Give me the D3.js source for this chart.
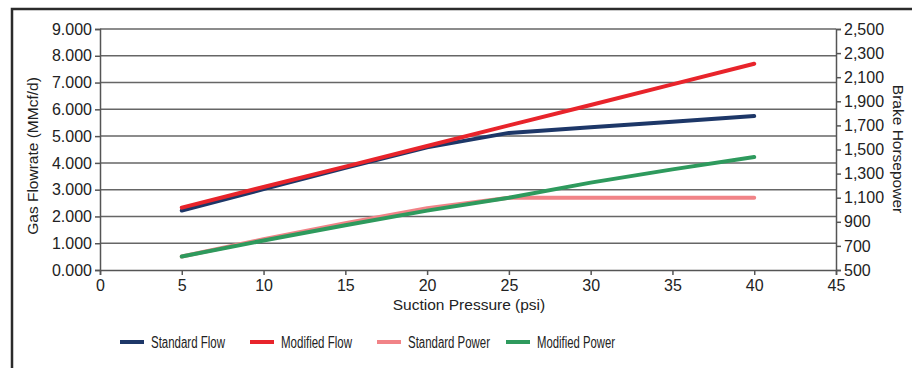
<!DOCTYPE html>
<html>
<head>
<meta charset="utf-8">
<script src="https://cdn.jsdelivr.net/npm/d3@7"></script>
<style>
  body { margin: 0; background: #fff; }
  svg { display: block; font-family: "Liberation Sans", Arial, sans-serif; }
</style>
</head>
<body>
<svg width="912" height="368"></svg>
<script>
// suction pressure (psi)
var pressure = [5, 10, 15, 20, 25, 30, 35, 40];
// gas flowrate, MMcf/d (left axis)
var standardFlow = [2.22, 3.02, 3.82, 4.58, 5.12, 5.33, 5.54, 5.75];
var modifiedFlow = [2.33, 3.1, 3.86, 4.63, 5.4, 6.16, 6.93, 7.7];
// brake horsepower (right axis)
var standardPower = [612, 755, 888, 1012, 1100, 1100, 1100, 1100];
var modifiedPower = [612, 745, 872, 993, 1100, 1225, 1335, 1437];

var xTicks = [0, 5, 10, 15, 20, 25, 30, 35, 40, 45];
var leftTicks = [0, 1, 2, 3, 4, 5, 6, 7, 8, 9];
var rightTicks = [500, 700, 900, 1100, 1300, 1500, 1700, 1900, 2100, 2300, 2500];

var series = [
    {name: "Standard Flow", values: standardFlow, axis: "left", color: "#1d3768", w: 74},
    {name: "Modified Flow", values: modifiedFlow, axis: "left", color: "#e8242b", w: 71},
    {name: "Standard Power", values: standardPower, axis: "right", color: "#f18387", w: 82},
    {name: "Modified Power", values: modifiedPower, axis: "right", color: "#2e9a5d", w: 78}
];

var svg = d3.select("svg");
var mLeft = 100, mRight = 836, mTop = 29, mBottom = 270;

// frame (only top and left edge show)
svg.append("path")
    .attr("d", "M12,372 L12,9 L920,9")
    .attr("fill", "none")
    .attr("stroke", "#2b2b2b")
    .attr("stroke-width", 2.5);

var x = d3.scaleLinear().domain([0, 45]).range([mLeft, mRight]);
var yL = d3.scaleLinear().domain([0, 9]).range([mBottom, mTop]);
var yR = d3.scaleLinear().domain([500, 2500]).range([mBottom, mTop]);

// gridlines
svg.append("g").selectAll("line")
    .data(leftTicks.slice(1))
    .enter().append("line")
    .attr("x1", mLeft).attr("x2", mRight)
    .attr("y1", function(d) { return yL(d); })
    .attr("y2", function(d) { return yL(d); })
    .attr("stroke", "#666")
    .attr("stroke-width", 1.5);

var fmtL = d3.format(".3f");
var fmtR = d3.format(",");

var gx = svg.append("g")
    .attr("transform", "translate(0," + mBottom + ")")
    .call(d3.axisBottom(x).tickValues(xTicks).tickSize(5).tickPadding(5));
var gl = svg.append("g")
    .attr("transform", "translate(" + mLeft + ",0)")
    .call(d3.axisLeft(yL).tickValues(leftTicks).tickFormat(fmtL).tickSize(5).tickPadding(3));
var gr = svg.append("g")
    .attr("transform", "translate(" + mRight + ",0)")
    .call(d3.axisRight(yR).tickValues(rightTicks).tickFormat(fmtR).tickSize(5).tickPadding(3));

[gx, gl, gr].forEach(function(g) {
    g.select(".domain").attr("stroke", "#555").attr("stroke-width", 1.5);
    g.selectAll(".tick line").attr("stroke", "#555").attr("stroke-width", 1.5);
    g.selectAll(".tick text").attr("fill", "#222").style("font-size", "16px")
        .style("font-family", "'Liberation Sans', Arial, sans-serif");
});

// series lines
var line = function(s) {
    var y = s.axis === "left" ? yL : yR;
    return d3.line()
        .x(function(d, i) { return x(pressure[i]); })
        .y(function(d) { return y(d); })(s.values);
};

svg.append("g").selectAll("path")
    .data(series)
    .enter().append("path")
    .attr("d", line)
    .attr("fill", "none")
    .attr("stroke", function(d) { return d.color; })
    .attr("stroke-width", 4)
    .attr("stroke-linecap", "round")
    .attr("stroke-linejoin", "round");

// axis titles
svg.append("text")
    .attr("transform", "translate(38,156) rotate(-90)")
    .attr("text-anchor", "middle")
    .attr("fill", "#222")
    .style("font-size", "15.5px")
    .text("Gas Flowrate (MMcf/d)");

svg.append("text")
    .attr("transform", "translate(893,149) rotate(90)")
    .attr("text-anchor", "middle")
    .attr("fill", "#222")
    .style("font-size", "15.5px")
    .text("Brake Horsepower");

svg.append("text")
    .attr("x", 469).attr("y", 310)
    .attr("text-anchor", "middle")
    .attr("fill", "#222")
    .style("font-size", "15.5px")
    .text("Suction Pressure (psi)");

// legend (condensed text like the original)
var legendX = [120, 250, 377, 506];
var lg = svg.append("g").selectAll("g")
    .data(series)
    .enter().append("g")
    .attr("transform", function(d, i) { return "translate(" + legendX[i] + ",342)"; });
lg.append("line")
    .attr("x1", 0).attr("x2", 24)
    .attr("stroke", function(d) { return d.color; })
    .attr("stroke-width", 4);
lg.append("text")
    .attr("x", 31).attr("y", 6)
    .attr("fill", "#222")
    .style("font-size", "16px")
    .attr("textLength", function(d) { return d.w; })
    .attr("lengthAdjust", "spacingAndGlyphs")
    .text(function(d) { return d.name; });
</script>
</body>
</html>
